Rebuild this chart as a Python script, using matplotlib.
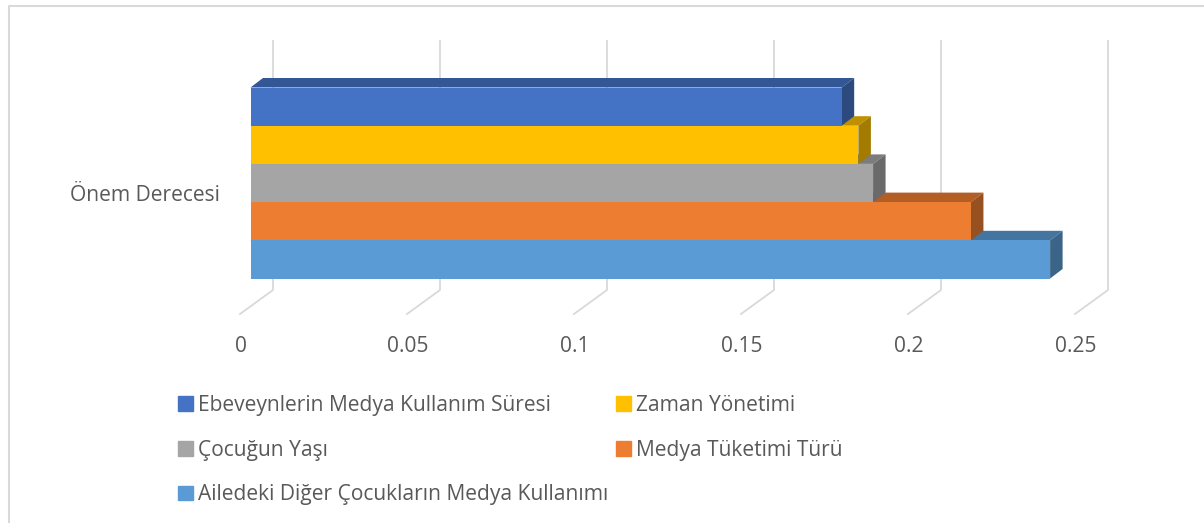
import matplotlib
matplotlib.use('Agg')
import matplotlib.pyplot as plt
from matplotlib.patches import Polygon, Patch
from matplotlib.transforms import ScaledTranslation
from matplotlib.lines import Line2D

plt.rcParams['font.family'] = ['Open Sans', 'DejaVu Sans']

# bottom to top
series = ['Ailedeki Diğer Çocukların Medya Kullanımı', 'Medya Tüketimi Türü', 'Çocuğun Yaşı',
          'Zaman Yönetimi', 'Ebeveynlerin Medya Kullanım Süresi']
values = [0.2394, 0.2157, 0.1864, 0.182, 0.177]
front_colors = ['#5b9bd5', '#ed7d31', '#a5a5a5', '#ffc000', '#4472c4']
top_colors = ['#4474a0', '#b25e25', '#7c7c7c', '#bf9000', '#335694']
side_colors = ['#3a6488', '#97501f', '#6a6a6a', '#a37b00', '#2c4a7d']
category = 'Önem Derecesi'
ticks = [0, 0.05, 0.1, 0.15, 0.2, 0.25]
tick_labels = ['0', '0.05', '0.1', '0.15', '0.2', '0.25']
legend_order = [4, 2, 0, 3, 1]

W, H = 1204, 523
text_color = '#595959'
grid_color = '#d9d9d9'

fig = plt.figure(figsize=(W / 100, H / 100), dpi=100)

# plot area is the front plane of the bars, in pixels
x0, x1, y_top, y_bot = 250.5, 1085.5, 87.5, 278.5
ax = fig.add_axes([x0 / W, 1 - y_bot / H, (x1 - x0) / W, (y_bot - y_top) / H])
ax.set_xlim(0, 0.25)
ax.set_ylim(0, 5)
for s in ax.spines.values():
    s.set_visible(False)
ax.patch.set_visible(False)

px_x = 0.25 / (x1 - x0)
px_y = 5 / (y_bot - y_top)
dx, dy = 12.5 * px_x, 9.5 * px_y

# gridlines run over the back wall and then down the floor
for t in ticks:
    ax.add_line(Line2D([t + 22.5 * px_x, t + 22.5 * px_x, t - 10.5 * px_x],
                       [5 + 46.5 * px_y, -11.5 * px_y, -35.5 * px_y],
                       color=grid_color, lw=1.3, clip_on=False, zorder=1))

for i, v in enumerate(values):
    ax.barh(i + 0.5, v, height=1, color=front_colors[i], zorder=3)
    ax.add_patch(Polygon([(0, i + 1), (dx, i + 1 + dy), (v + dx, i + 1 + dy), (v, i + 1)],
                         color=top_colors[i], lw=0, zorder=2 + i * 0.1, clip_on=False))
    ax.add_patch(Polygon([(v, i), (v + dx, i + dy), (v + dx, i + 1 + dy), (v, i + 1)],
                         color=side_colors[i], lw=0, zorder=2 + i * 0.1, clip_on=False))

ax.set_xticks(ticks, tick_labels)
ax.set_yticks([2.5], [category])
ax.tick_params(axis='both', length=0, labelcolor=text_color, labelsize=15.1)
ax.tick_params(axis='x', pad=41.7)
ax.tick_params(axis='y', pad=22.4)
shift = ScaledTranslation(-9.5 / 100, 0, fig.dpi_scale_trans)
for lab in ax.get_xticklabels():
    lab.set_transform(lab.get_transform() + shift)
shift_y = ScaledTranslation(0, -10 / 100, fig.dpi_scale_trans)
for lab in ax.get_yticklabels():
    lab.set_transform(lab.get_transform() + shift_y)

handles = [Patch(color=front_colors[i], label=series[i]) for i in legend_order]
fig.legend(handles=handles, ncol=2, frameon=False, fontsize=15.1, labelcolor=text_color,
           loc='upper left', bbox_to_anchor=(178 / W, 1 - 395 / H),
           handlelength=0.7, handleheight=0.7, handletextpad=0.25, labelspacing=1.13,
           columnspacing=0.36, borderpad=0, borderaxespad=0)

# chart frame, only the top and left edges are in the crop
fig.add_artist(Line2D([8.5 / W, 8.5 / W, 1], [0, 1 - 5.5 / H, 1 - 5.5 / H],
                      color=grid_color, lw=1.5, transform=fig.transFigure))

fig.savefig('out.png', dpi=100)
